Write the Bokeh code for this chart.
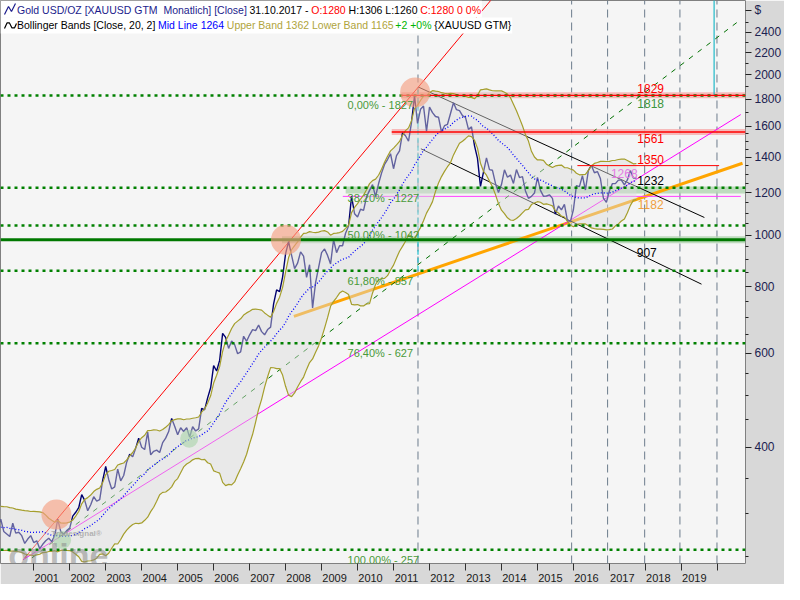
import numpy as np
from bokeh.plotting import figure
from bokeh.models import Range1d, FixedTicker, CustomJSTickFormatter
from bokeh.embed import file_html
from bokeh.resources import INLINE
from bokeh.core.properties import value

FONT_NAME = "Liberation Sans"
FONT = value(FONT_NAME)

# ---------------- data: monthly closes XAUUSD (USD/oz) ----------------
close_1998 = [304, 297, 301, 310, 293, 296, 288, 273, 294, 292, 294, 288]
close_1999 = [287, 287, 280, 286, 268, 262, 255, 254, 299, 299, 292, 290]
close_2000 = [283, 293, 278, 275, 272, 288, 276, 277, 273, 264, 269, 273]
close_2001 = [265, 267, 258, 263, 267, 270, 266, 273, 293, 278, 275, 279]
close_2002 = [282, 297, 302, 308, 326, 318, 304, 312, 323, 317, 319, 347]
close_2003 = [368, 348, 334, 337, 364, 346, 354, 375, 388, 384, 398, 416]
close_2004 = [400, 396, 427, 387, 393, 395, 391, 408, 416, 428, 453, 438]
close_2005 = [422, 435, 428, 435, 418, 437, 429, 433, 473, 470, 495, 517]
close_2006 = [569, 556, 582, 654, 643, 613, 633, 623, 599, 604, 646, 632]
close_2007 = [650, 665, 662, 678, 659, 650, 665, 672, 743, 789, 783, 834]
close_2008 = [923, 972, 916, 865, 886, 930, 913, 833, 880, 730, 814, 869]
close_2009 = [927, 942, 916, 883, 980, 927, 955, 955, 1008, 1040, 1182, 1097]
close_2010 = [1081, 1118, 1113, 1180, 1213, 1244, 1181, 1248, 1307, 1357, 1386, 1421]
close_2011 = [1332, 1410, 1439, 1556, 1536, 1500, 1628, 1826, 1620, 1722, 1746, 1566]
close_2012 = [1738, 1697, 1669, 1664, 1561, 1604, 1614, 1691, 1772, 1719, 1712, 1675]
close_2013 = [1663, 1579, 1596, 1472, 1393, 1234, 1313, 1396, 1327, 1323, 1250, 1202]
close_2014 = [1244, 1326, 1284, 1296, 1250, 1327, 1282, 1287, 1210, 1172, 1182, 1199]
close_2015 = [1283, 1213, 1183, 1184, 1190, 1172, 1095, 1134, 1115, 1142, 1065, 1061]
close_2016 = [1117, 1238, 1233, 1293, 1215, 1322, 1351, 1309, 1316, 1277, 1173, 1152]
close_2017 = [1211, 1249, 1249, 1268, 1268, 1242, 1269, 1322, 1280, 1280]
first_year = 1998
bb_period = 20
bb_width = 2

# Fibonacci retracement levels (label, price)
fib_labels = ["0,00% - 1827", "38,20% - 1227", "50,00% - 1042", "61,80% - 857", "76,40% - 627", "100,00% - 257"]
fib_levels = [1827, 1227, 1042, 857, 627, 257]

# horizontal support / resistance
red_levels = [1829, 1561]
red_level_start = [2011.22, 2010.95]
red_short_level = 1350
red_short_t = [2016.11, 2020.05]
green_thick_level = 980
green_band_levels = [980, 1215]
green_band_start = [2007.90, 2009.67]
magenta_level = 1182
magenta_level_t = [2009.59, 2020.65]

# trend lines (two anchor points each: years, prices)
red_line_t = [2000.75, 2013.80]
red_line_p = [248, 2807]
green_dash_t = [2000.95, 2020.60]
green_dash_p = [248, 2522]
magenta_line_t = [2000.70, 2020.65]
magenta_line_p = [246, 1683]
orange_line_t = [2008.23, 2020.70]
orange_line_p = [704, 1364]
channel_up_t = [2011.68, 2019.64]
channel_up_p = [1897, 1079]
channel_lo_t = [2011.76, 2019.56]
channel_lo_p = [1452, 809]

# vertical time markers
vlines_t = [2011.68, 2015.95, 2016.95, 2017.98, 2018.96, 2019.99]
cyan_dash_t = 2011.68
cyan_dash_p = [857, 1897]
cyan_solid_t = 2019.91
cyan_solid_p = [1829, 3000]

# highlight circles
salmon_t = [2001.63, 2008.01, 2011.60]
salmon_p = [299, 980, 1852]
pale_green_t = [2005.32, 2001.79]
pale_green_p = [415, 268]

# price labels (text, colour, reference-pixel position)
price_lbl_text = ["1829", "1818", "1561", "1350", "1268", "1232", "1182", "907"]
price_lbl_color = ["#ff0000", "#3c963c", "#ff0000", "#ff0000", "#e47ae4", "#000000", "#f0a040", "#000000"]
price_lbl_px = [665, 665, 665, 665, 638, 665, 665, 661]
price_lbl_py = [91, 106, 142, 164, 179, 186, 211, 260]

years = list(range(2001, 2020))
y_ticks = [400, 600, 800, 1000, 1200, 1400, 1600, 1800, 2000, 2200, 2400]
y_minor = [250, 300, 350, 450, 500, 550, 650, 700, 750, 850, 900, 950, 1050, 1100, 1150,
           1250, 1300, 1350, 1450, 1500, 1550, 1700, 1900, 2100, 2300, 2500]
currency_label = "$"

# ---------------- derived series ----------------
closes = np.array(close_1998 + close_1999 + close_2000 + close_2001 + close_2002 + close_2003 +
                  close_2004 + close_2005 + close_2006 + close_2007 + close_2008 + close_2009 +
                  close_2010 + close_2011 + close_2012 + close_2013 + close_2014 + close_2015 +
                  close_2016 + close_2017, dtype=float)
n = len(closes)
tt = first_year + np.arange(n) / 12.0
mid, upper, lower = [], [], []
for i in range(bb_period - 1, n):
    w = closes[i - bb_period + 1:i + 1]
    m, s = w.mean(), w.std()
    mid.append(m); upper.append(m + bb_width * s); lower.append(m - bb_width * s)
bt = tt[bb_period - 1:]

# ---------------- geometry helpers (reference calibration) ----------------
def ref_t(px):
    return 2001 + (px - 34) / 36.8

def ref_p(py):
    return 400 * np.exp((461 - py) / 238.9)

def ref_y(p):
    return 461 - 238.9 * np.log(p / 400)

X0, X1 = ref_t(0), ref_t(762)
Y0, Y1 = ref_p(581), ref_p(0)
W, H = 784, 584
FW, FH = 746, 565

def our_t(px):
    return X0 + px / FW * (X1 - X0)

def our_p(py):
    return float(np.exp(np.log(Y1) - py / FH * (np.log(Y1) - np.log(Y0))))

p = figure(width=W, height=H, x_range=Range1d(X0, X1), y_range=Range1d(Y0, Y1),
           y_axis_type="log", y_axis_location="right", output_backend="svg",
           toolbar_location=None, background_fill_color="#f5f5f5",
           border_fill_color="#d8d8d8", min_border_left=0, min_border_top=0,
           min_border_right=38, min_border_bottom=19, outline_line_color="#808080")
p.xgrid.visible = False
p.ygrid.visible = False

# axes
xa = p.xaxis[0]
xa.ticker = FixedTicker(ticks=[y + 0.36 for y in years], minor_ticks=list(range(2000, 2021)))
xa.formatter = CustomJSTickFormatter(code="return Math.floor(tick).toString();")
xa.major_tick_line_color = None
xa.major_tick_out = 0
xa.major_tick_in = 0
xa.minor_tick_out = 7
xa.minor_tick_in = 0
xa.minor_tick_line_color = "#303030"
xa.axis_line_color = None
xa.major_label_standoff = 3
xa.major_label_text_font = FONT_NAME
xa.major_label_text_font_size = "11px"
xa.major_label_text_color = "#1a1a1a"

cur_tick = our_p(10)
ya = p.yaxis[0]
ya.ticker = FixedTicker(ticks=y_ticks + [cur_tick], minor_ticks=y_minor)
ya.formatter = CustomJSTickFormatter(
    args=dict(cut=2550.0, cur=currency_label),
    code="return tick > cut ? cur : Math.round(tick).toString();")
ya.major_tick_out = 6
ya.major_tick_in = 0
ya.minor_tick_out = 3
ya.minor_tick_in = 0
ya.major_tick_line_color = "#202020"
ya.minor_tick_line_color = "#202020"
ya.axis_line_color = None
ya.major_label_standoff = 3
ya.major_label_text_font = FONT_NAME
ya.major_label_text_font_size = "12px"
ya.major_label_text_color = "#1c2250"

# vertical dashed time lines
p.segment(x0=vlines_t, x1=vlines_t, y0=[Y0] * len(vlines_t), y1=[Y1] * len(vlines_t),
          line_color="#6c7c8c", line_width=1, line_dash="8 5")

# highlight bands
for lvl, st in zip(red_levels, red_level_start):
    p.rect(x=[(st + X1) / 2], y=[lvl], width=[X1 - st], height=6, height_units="screen",
           fill_color="#f6b4b4", line_color=None, fill_alpha=0.9)
for lvl, st in zip(green_band_levels, green_band_start):
    p.rect(x=[(st + X1) / 2], y=[lvl], width=[X1 - st], height=7, height_units="screen",
           fill_color="#b4d6b4", line_color=None, fill_alpha=0.85)

# trend lines under the band fill
p.line(orange_line_t, orange_line_p, line_color="#ffa500", line_width=3)
p.line(magenta_line_t, magenta_line_p, line_color="#ff00ff", line_width=1)
p.line(magenta_level_t, [magenta_level] * 2, line_color="#ff40ff", line_width=1)
p.line(channel_up_t, channel_up_p, line_color="#000000", line_width=1)
p.line(channel_lo_t, channel_lo_p, line_color="#000000", line_width=1)
p.line(green_dash_t, green_dash_p, line_color="#007000", line_width=1, line_dash="5 6")
p.line(red_line_t, red_line_p, line_color="#ff0000", line_width=1)
p.line([cyan_dash_t] * 2, cyan_dash_p, line_color="#20c0d0", line_width=1.2, line_dash="5 3")
p.line([cyan_solid_t] * 2, cyan_solid_p, line_color="#20b8c8", line_width=1.2)

# price
p.line(tt, closes, line_color="#00006e", line_width=1.4)

# Bollinger fill overlay
p.varea(x=bt, y1=lower, y2=upper, fill_color="#dcdcdc", fill_alpha=0.45)
p.line(bt, upper, line_color="#a59e2c", line_width=1.2)
p.line(bt, lower, line_color="#a59e2c", line_width=1.2)
p.line(bt, mid, line_color="#0000ff", line_width=1.3, line_dash="1 2")

# thick green support and horizontal level lines
p.line([X0, X1], [green_thick_level] * 2, line_color="#007800", line_width=3)
for lvl in fib_levels:
    p.line([X0, X1], [lvl, lvl], line_color="#008000", line_width=2.5, line_dash="3 4")
for lvl, st in zip(red_levels, red_level_start):
    p.line([st, X1], [lvl, lvl], line_color="#ff0000", line_width=1.4)
p.line(red_short_t, [red_short_level] * 2, line_color="#ff0000", line_width=1)

# circles
p.scatter(salmon_t, salmon_p, size=30, fill_color="#f4a083", fill_alpha=0.65, line_color=None)
p.scatter(pale_green_t, pale_green_p, size=18, fill_color="#a8d4a8", fill_alpha=0.6, line_color=None)

# fib labels
fib_x = [ref_t(355)] * len(fib_levels)
fib_y = [ref_p(ref_y(l) + 4) for l in fib_levels]
p.text(fib_x, fib_y, text=fib_labels, text_font=FONT, text_font_size="11px",
       text_color="#4a9a3a", text_baseline="top", text_align="left")

# price labels
p.text([ref_t(x) for x in price_lbl_px], [ref_p(y) for y in price_lbl_py], text=price_lbl_text,
       text_color=price_lbl_color, text_font=FONT, text_font_size="12px",
       text_baseline="middle", text_align="center")

# watermark
p.text([ref_t(8)], [ref_p(572)], text=["online"], text_font=FONT, text_font_size="34px",
       text_font_style="bold", text_color="#8a8a8a", text_alpha=0.55, text_baseline="alphabetic")
p.text([ref_t(52)], [ref_p(550)], text=["Tradesignal\u00ae"], text_font=FONT, text_font_size="8px",
       text_font_style="bold", text_color="#8a8a8a", text_alpha=0.6, text_baseline="alphabetic")

# ---------------- legend header ----------------
AW = {' ': 278, '\u00a0': 278, '%': 889, '+': 584, ',': 278, '-': 333, '.': 278, '/': 278, ':': 278,
      '[': 278, ']': 278, '{': 334, '}': 334, 'A': 667, 'B': 667, 'C': 722, 'D': 722, 'G': 778,
      'H': 722, 'L': 556, 'M': 833, 'O': 778, 'S': 667, 'T': 611, 'U': 722, 'X': 667, 'Z': 611,
      'a': 556, 'b': 556, 'c': 500, 'd': 556, 'e': 556, 'g': 556, 'h': 556, 'i': 222, 'l': 222,
      'n': 556, 'o': 556, 'p': 556, 'r': 333, 's': 500, 't': 278, 'u': 556}
LFS = 10.5
NB = "\u00a0"

def tw(s):
    return sum(AW.get(ch, 556) for ch in s) * LFS / 1000.0

row1 = [("Gold USD/OZ [XAUUSD GTM  Monatlich] [Close]", "#1c1c8c"), (" 31.10.2017 - ", "#000000"),
        ("O:1280", "#ff0000"), (" H:1306 L:1260 ", "#000000"), ("C:1280 0 0%", "#ff0000")]
row2 = [("Bollinger Bands [Close, 20, 2] ", "#000000"), ("Mid Line 1264 ", "#0000ff"),
        ("Upper Band 1362 Lower Band 1165 ", "#b0a43c"), ("+2 +0% ", "#00b400"),
        ("{XAUUSD GTM}", "#000000")]

rows = [(row1, 9.5), (row2, 25.0)]
for k, (row, yc) in enumerate(rows):
    row = [(s.replace(" ", NB), c) for s, c in row]
    total = sum(tw(s) for s, _ in row)
    x_start = 16.5
    top = 0 if k == 0 else 17
    bot = 17 if k == 0 else 33
    p.quad(left=[our_t(0)], right=[our_t(x_start + total + 1)], top=[our_p(top)], bottom=[our_p(bot)],
           fill_color="#ffffff", line_color=None)
    xs, ys, txt, cols = [], [], [], []
    x = x_start
    for s, c in row:
        xs.append(our_t(x)); ys.append(our_p(yc)); txt.append(s); cols.append(c)
        x += tw(s)
    p.text(xs, ys, text=txt, text_color=cols, text_font=FONT, text_font_size=f"{LFS}px",
           text_baseline="middle", text_align="left")

# legend icons
p.line([our_t(v) for v in [4, 8, 11, 15]], [our_p(v) for v in [14, 6, 11, 3]],
       line_color="#1c1c8c", line_width=1.2)
p.line([our_t(v) for v in [4, 6.5, 9, 11.5, 14, 16]], [our_p(v) for v in [28, 22.5, 22.5, 27.5, 27.5, 23]],
       line_color="#000000", line_width=1.2)

open("out.html", "w").write(file_html(p, INLINE))
